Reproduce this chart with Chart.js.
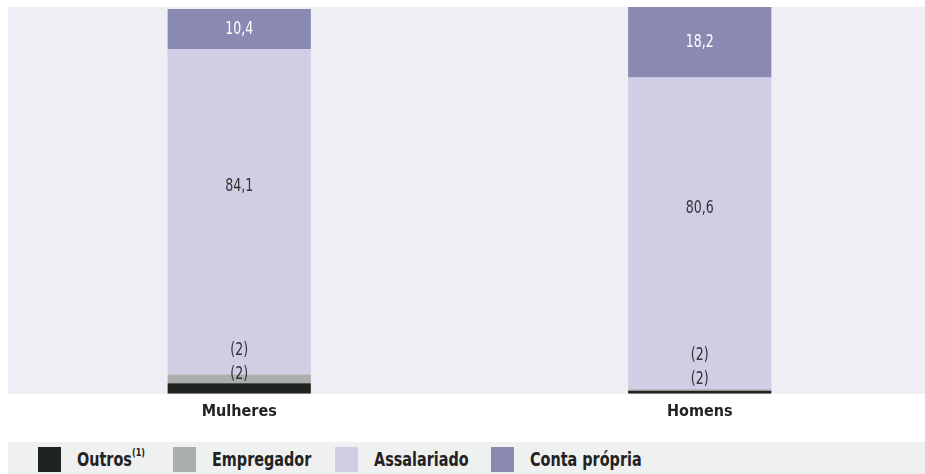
<!DOCTYPE html>
<html lang="pt-BR">
<head>
<meta charset="utf-8">
<script src="https://cdn.jsdelivr.net/npm/chart.js@4.4.1/dist/chart.umd.min.js"></script>
<style>
  html, body { margin: 0; padding: 0; background: #fff; overflow: hidden; }
  body { width: 925px; height: 474px; position: relative; }
  #wrap { position: absolute; left: 0; top: 0; width: 930px; height: 442px; }
  #legenda {
    position: absolute; left: 8px; top: 442px; width: 917px; height: 32px;
    background: #eff0f0;
    font-family: "DejaVu Sans Condensed", "DejaVu Sans", sans-serif;
    font-stretch: condensed;
    font-weight: bold; font-size: 16px; color: #222;
  }
  .item { position: absolute; top: 5px; height: 25px; display: flex; align-items: center; white-space: nowrap; }
  .caixa { width: 23px; height: 25px; margin-right: 16px; }
  .texto { display: inline-block; transform: scaleY(1.25); }
  .item sup { font-size: 9px; position: relative; top: -2px; }
</style>
</head>
<body>
<div id="wrap"><canvas id="grafico"></canvas></div>
<div id="legenda"></div>
<script>
// Categorias e séries (%)
const categorias = ["Mulheres", "Homens"];
const outros = [2.7, 0.8];
const empregador = [2.3, 0.4];
const assalariado = [84.1, 80.6];
const contaPropria = [10.4, 18.2];
// Rótulos exibidos: (2) = dado não confiável
const rotulosOutros = ["(2)", "(2)"];
const rotulosEmpregador = ["(2)", "(2)"];

const cores = {
  outros: "#1f2421",
  empregador: "#aaaeac",
  assalariado: "#d0cde5",
  contaPropria: "#8989b2"
};

const fonte = '"DejaVu Sans Condensed", "DejaVu Sans", sans-serif';

function formata(v) {
  return v.toFixed(1).replace(".", ",");
}

// Fundo da área do gráfico
const fundo = {
  id: "fundo",
  beforeDraw(chart) {
    const a = chart.chartArea;
    const ctx = chart.ctx;
    ctx.save();
    ctx.fillStyle = "#efeef5";
    ctx.fillRect(8, a.top, 917, a.bottom - a.top);
    ctx.restore();
  }
};

// texto um pouco "esticado" na vertical, como no original
function escreve(ctx, txt, x, y) {
  ctx.save();
  ctx.translate(x, y);
  ctx.scale(1, 1.3);
  ctx.fillText(txt, 0, 0);
  ctx.restore();
}

// Rótulos dentro das barras
const rotulos = {
  id: "rotulos",
  afterDatasetsDraw(chart) {
    const ctx = chart.ctx;
    const top = chart.chartArea.top;
    ctx.save();
    ctx.font = '14px ' + fonte;
    ctx.textAlign = "center";
    ctx.textBaseline = "middle";
    const mOut = chart.getDatasetMeta(0).data;
    const mEmp = chart.getDatasetMeta(1).data;
    const mAss = chart.getDatasetMeta(2).data;
    const mCp = chart.getDatasetMeta(3).data;
    categorias.forEach((c, i) => {
      // conta própria
      const cp = mCp[i];
      const cpTop = Math.max(cp.y, top);
      ctx.fillStyle = "#ffffff";
      escreve(ctx, formata(contaPropria[i]), cp.x, (cpTop + cp.base) / 2);
      // assalariado
      const as = mAss[i];
      ctx.fillStyle = "#333333";
      escreve(ctx, formata(assalariado[i]), as.x, as.y + (as.base - as.y) * 0.42);
      // outros / empregador
      const baixo = Math.min(mEmp[i].y, mOut[i].base - 15);
      escreve(ctx, rotulosOutros[i], mOut[i].x, baixo);
      escreve(ctx, rotulosEmpregador[i], mEmp[i].x, baixo - 24);
    });
    ctx.restore();
  }
};

const series = [
  { label: "Outros", data: outros, cor: cores.outros },
  { label: "Empregador", data: empregador, cor: cores.empregador },
  { label: "Assalariado", data: assalariado, cor: cores.assalariado },
  { label: "Conta própria", data: contaPropria, cor: cores.contaPropria }
];

const ctx1 = document.getElementById("grafico").getContext("2d");
new Chart(ctx1, {
  type: "bar",
  data: {
    labels: categorias,
    datasets: series.map(s => ({
      label: s.label,
      data: s.data,
      backgroundColor: s.cor,
      borderWidth: 0,
      barPercentage: 1,
      categoryPercentage: 0.311
    }))
  },
  options: {
    responsive: true,
    maintainAspectRatio: false,
    animation: false,
    layout: { padding: { left: 9, right: 0, top: 7, bottom: 13 } },
    plugins: {
      legend: { display: false },
      tooltip: { enabled: false }
    },
    scales: {
      x: {
        stacked: true,
        grid: { display: false, drawTicks: false },
        border: { display: false },
        ticks: {
          color: "#222",
          padding: 8,
          font: { family: fonte, size: 16, weight: "bold" }
        }
      },
      y: {
        stacked: true,
        display: false,
        min: 0,
        max: 100
      }
    }
  },
  plugins: [fundo, rotulos]
});

// Legenda em HTML
const posLegenda = [30, 165, 327, 483];
const leg = document.getElementById("legenda");
series.forEach((s, i) => {
  const item = document.createElement("div");
  item.className = "item";
  item.style.left = posLegenda[i] + "px";
  const caixa = document.createElement("span");
  caixa.className = "caixa";
  caixa.style.background = s.cor;
  const txt = document.createElement("span");
  txt.className = "texto";
  txt.textContent = s.label;
  if (i === 0) {
    const sup = document.createElement("sup");
    sup.textContent = "(1)";
    txt.appendChild(sup);
  }
  item.appendChild(caixa);
  item.appendChild(txt);
  leg.appendChild(item);
});
</script>
</body>
</html>
